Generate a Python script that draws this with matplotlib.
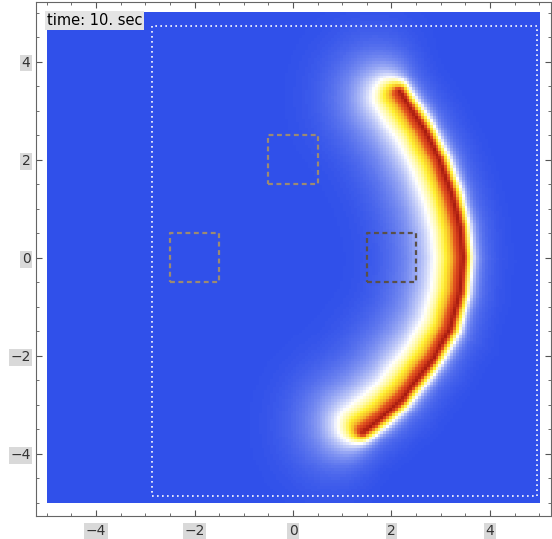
import numpy as np
import matplotlib
matplotlib.use("Agg")
import matplotlib.pyplot as plt
from matplotlib.colors import LinearSegmentedColormap

# ridge of the crescent (top tip -> bottom tip)
ridgeX = [2.17, 2.64, 2.98, 3.23, 3.39, 3.45, 3.39, 3.19, 2.84, 2.21, 1.81, 1.42]
ridgeY = [3.39, 2.67, 2.00, 1.29, 0.63, 0.00, -0.71, -1.47, -2.08, -2.90, -3.27, -3.57]

# dashed boxes (centres), side 1
boxCentres = [(0.0, 2.0), (-2.0, 0.0), (2.0, 0.0)]
boxColors = ["#9c8a72", "#9c8a72", "#5a5048"]

# dotted region
regionX = [-2.86, 4.96]
regionY = [-4.86, 4.73]

timeLabel = "time: 10. sec"
ticks = [-4, -2, 0, 2, 4]

# colour scale: blue -> white -> yellow -> red
cmap = LinearSegmentedColormap.from_list("heat", [
	(0.0, "#3050ea"),
	(0.30, "#ffffff"),
	(0.40, "#fffaa8"),
	(0.52, "#fff030"),
	(0.66, "#f5b42a"),
	(0.78, "#e45a20"),
	(0.90, "#d0381a"),
	(1.0, "#a81c10"),
])

# grid
n = 170
gx = np.linspace(-5, 5, n)
gy = np.linspace(-5, 5, n)
X, Y = np.meshgrid(gx, gy)

# distance to the ridge polyline, with a signed part (outer side > 0)
rx = np.array(ridgeX)
ry = np.array(ridgeY)
best = np.full(X.shape, 1e9)
side = np.zeros(X.shape)
for i in range(len(rx) - 1):
	ax0, ay0 = rx[i], ry[i]
	tx, ty = rx[i + 1] - ax0, ry[i + 1] - ay0
	L2 = tx * tx + ty * ty
	u = np.clip(((X - ax0) * tx + (Y - ay0) * ty) / L2, 0, 1)
	px = ax0 + u * tx
	py = ay0 + u * ty
	d = np.hypot(X - px, Y - py)
	L = np.sqrt(L2)
	cross = (tx * (Y - ay0) - ty * (X - ax0)) / L
	s = np.clip(cross / np.maximum(d, 1e-9), -1, 1)
	m = d < best
	best[m] = d[m]
	side[m] = s[m]

w = 0.5 + 0.5 * side
outer = 0.92 * np.exp(-(best / 0.177) ** 1.5) + 0.08 * np.exp(-(best / 0.6) ** 2)
inner = 0.8 * np.exp(-(best / 0.37) ** 1.15) + 0.2 * np.exp(-(best / 1.2) ** 2)
field = w * outer + (1 - w) * inner

fig = plt.figure(figsize=(5.52, 5.39), dpi=100)
ax = fig.add_axes([0.0652, 0.0427, 0.933, 0.954])

ax.imshow(field, cmap=cmap, vmin=0, vmax=1, origin="lower",
	extent=[-5, 5, -5, 5], interpolation="nearest", aspect="auto")

# dotted region outline
ax.plot([regionX[0], regionX[1], regionX[1], regionX[0], regionX[0]],
	[regionY[0], regionY[0], regionY[1], regionY[1], regionY[0]],
	color="white", linestyle=(0, (1, 2)), linewidth=1.2)

# dashed boxes
for (cx, cy), col in zip(boxCentres, boxColors):
	xs = [cx - 0.5, cx + 0.5, cx + 0.5, cx - 0.5, cx - 0.5]
	ys = [cy - 0.5, cy - 0.5, cy + 0.5, cy + 0.5, cy - 0.5]
	ax.plot(xs, ys, color=col, linestyle=(0, (2.2, 1.6)), linewidth=1.6)

ax.text(-5, 5, timeLabel, ha="left", va="top", fontsize=10.5, color="black",
	bbox=dict(facecolor="#e4e4e4", edgecolor="none", pad=1.5))

ax.set_xlim(-5.22, 5.24)
ax.set_ylim(-5.27, 5.22)
ax.set_xticks(ticks)
ax.set_yticks(ticks)
ax.set_xticks(np.arange(-5, 5.01, 0.5), minor=True)
ax.set_yticks(np.arange(-5, 5.01, 0.5), minor=True)
ax.tick_params(which="both", direction="in", top=True, right=True, colors="#555555",
	labelcolor="#333333", labelsize=10)
ax.tick_params(which="major", length=4)
ax.tick_params(which="minor", length=2.5)
ax.tick_params(axis="x", pad=6)
ax.tick_params(axis="y", pad=4)
for lab in ax.get_xticklabels() + ax.get_yticklabels():
	lab.set_bbox(dict(facecolor="#d9d9d9", edgecolor="none", pad=1))
for sp in ax.spines.values():
	sp.set_color("#666666")

fig.savefig("out.png", dpi=100)
